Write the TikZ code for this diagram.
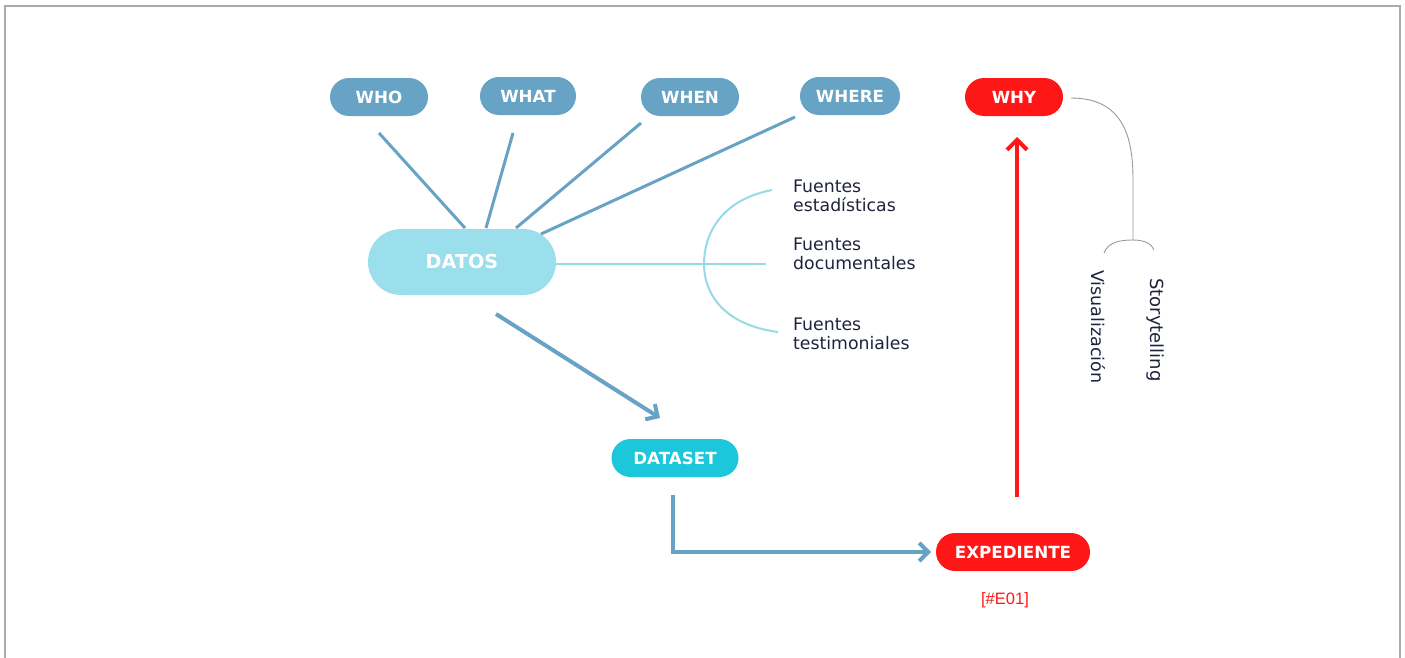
\documentclass[tikz,border=0pt]{standalone}
\usepackage{fontspec}
\setmainfont{DejaVu Sans}
\newfontfamily\lblfont{Liberation Sans}
\usetikzlibrary{arrows.meta}
\definecolor{steel}{RGB}{102,163,196}
\definecolor{datoscol}{RGB}{155,222,236}
\definecolor{dscol}{RGB}{28,198,219}
\definecolor{redcol}{RGB}{255,22,22}
\definecolor{navy}{RGB}{30,35,60}
\definecolor{lightline}{RGB}{150,218,232}
\definecolor{framegray}{RGB}{170,170,170}
\tikzset{
  pill/.style={rounded corners=19pt, minimum height=38pt, inner sep=0pt, text=white,
    font=\fontsize{16.7}{16.7}\selectfont\bfseries},
  bluepill/.style={pill, fill=steel},
  redpill/.style={pill, fill=redcol},
  src/.style={anchor=north west, align=left, text=navy, inner sep=0pt,
    font=\fontsize{17.3}{18.5}\selectfont},
  vert/.style={rotate=-90, anchor=west, text=navy, inner sep=0pt,
    font=\fontsize{17.7}{17}\selectfont},
  spoke/.style={draw=steel, line width=3pt},
  flow/.style={draw=steel, line width=4pt, -{Straight Barb[length=9pt,width=18pt,line width=4pt]}},
  redflow/.style={draw=redcol, line width=4pt, -{Straight Barb[length=10pt,width=20pt,line width=4pt]}},
}
\begin{document}
\begin{tikzpicture}[x=1pt,y=-1pt]
\useasboundingbox (0,0) rectangle (1405,657);
% frame
\draw[framegray, line width=1.5pt] (5,660) -- (5,6) -- (1400,6) -- (1400,660);

% top nodes
\node[bluepill, minimum width=98pt] (who) at (379,97) {WHO};
\node[bluepill, minimum width=96pt] (what) at (528,96) {WHAT};
\node[bluepill, minimum width=98pt] (when) at (690,97) {WHEN};
\node[bluepill, minimum width=100pt] (where) at (850,96) {WHERE};
\node[redpill, minimum width=98pt] (why) at (1014,97) {WHY};

% datos
\node[rounded corners=33pt, minimum height=66pt, minimum width=188pt, inner sep=0pt,
  fill=datoscol, text=white, font=\fontsize{19.2}{19.2}\selectfont\bfseries] (datos) at (462,262) {DATOS};

% spokes
\coordinate (whoS) at (379,133);  \coordinate (whoE) at (465,228);
\coordinate (whatS) at (513,133); \coordinate (whatE) at (486,228);
\coordinate (whenS) at (641,123); \coordinate (whenE) at (516,228);
\coordinate (whereS) at (795,117); \coordinate (whereE) at (541,234);
\draw[spoke] (whoS) -- (whoE);
\draw[spoke] (whatS) -- (whatE);
\draw[spoke] (whenS) -- (whenE);
\draw[spoke] (whereS) -- (whereE);

% sources
\coordinate (srcEnd) at (766,264);
\draw[lightline, line width=2pt] (datos.east |- srcEnd) -- (srcEnd);
\coordinate (arcTop) at (772,190);
\coordinate (arcBot) at (778,332);
\draw[lightline, line width=2pt] (arcTop) .. controls (720,200) and (704,235) .. (704,264)
   .. controls (704,295) and (725,325) .. (arcBot);
\node[src] (s1) at (793,180) {Fuentes\\estadísticas};
\node[src] (s2) at (793,238) {Fuentes\\documentales};
\node[src] (s3) at (793,318) {Fuentes\\testimoniales};

% dataset
\node[pill, fill=dscol, minimum width=127pt] (dataset) at (675,458) {DATASET};
\coordinate (dStart) at (496,314);
\coordinate (dEnd) at (660,418);
\draw[flow] (dStart) -- (dEnd);

% expediente
\node[redpill, minimum width=154pt] (exp) at (1013,552) {EXPEDIENTE};
\node[text=redcol, inner sep=0pt, font=\lblfont\fontsize{16.5}{16.5}\selectfont] (code) at (1005,600) {[\#E01]};
\coordinate (dsStart) at (673,495);
\coordinate (expIn) at (931,552);
\draw[flow, line join=miter] (dsStart) |- (expIn);

% red arrow
\coordinate (rStart) at (1017,497);
\coordinate (rEnd) at (1017,137);
\draw[redflow] (rStart) -- (rEnd);

% why bracket
\coordinate (whyS) at (1071,98);
\coordinate (brJoin) at (1133,240);
\coordinate (brL) at (1104,253);
\coordinate (brR) at (1154,250);
\draw[gray!80, line width=0.9pt] (whyS) .. controls (1125,98) and (1133,140) .. (1133,180) -- (brJoin);
\draw[gray!80, line width=0.9pt] (brL) .. controls (1108,242) and (1120,240) .. (brJoin)
   .. controls (1145,240) and (1152,244) .. (brR);
\node[vert, font=\fontsize{17.5}{17}\selectfont] (vis) at (1098,270) {Visualización};
\node[vert, font=\fontsize{18}{17}\selectfont] (story) at (1155,278) {Storytelling};
\end{tikzpicture}
\end{document}
